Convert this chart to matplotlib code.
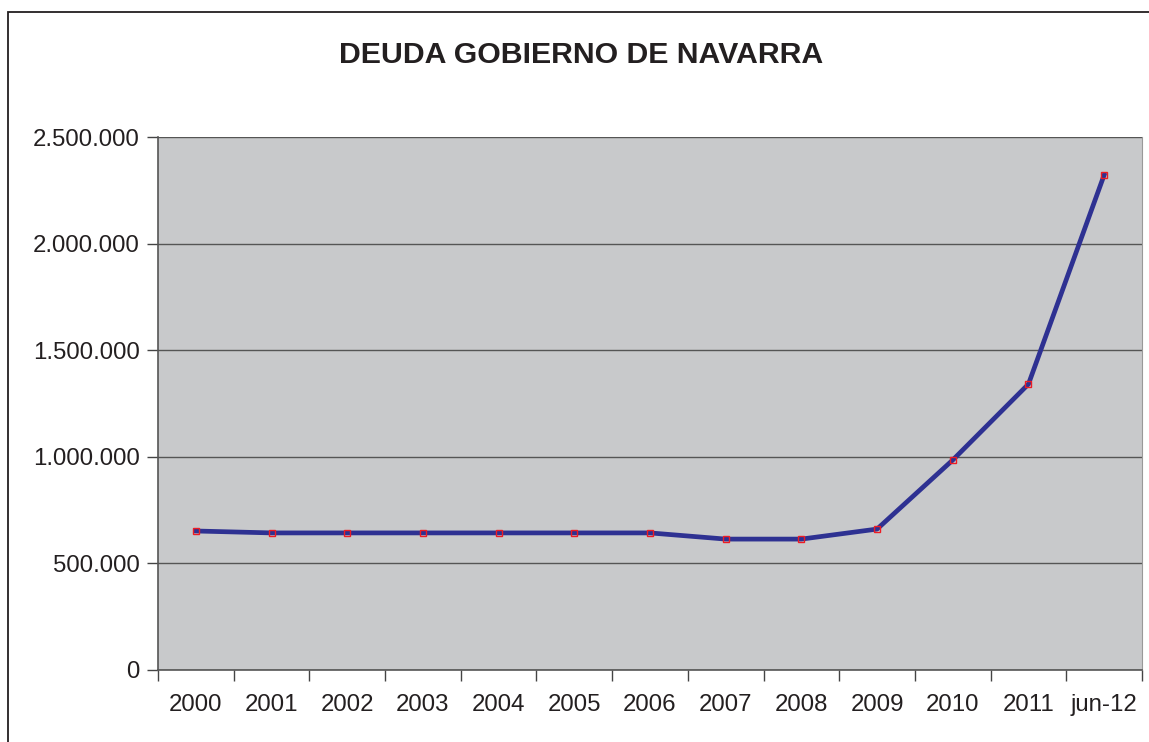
import numpy as np
import matplotlib.pyplot as plt
from matplotlib.patches import Rectangle
from matplotlib.ticker import FuncFormatter

# datos (miles de euros)
periodos = ['2000', '2001', '2002', '2003', '2004', '2005', '2006',
            '2007', '2008', '2009', '2010', '2011', 'jun-12']
deuda = [652000, 643000, 643000, 643000, 643000, 643000, 643000,
         614000, 614000, 661000, 985000, 1341000, 2322000]

plt.rcParams['font.family'] = ['Liberation Sans', 'DejaVu Sans']

fig = plt.figure(figsize=(11.49, 7.42), dpi=100)
ax = fig.add_axes([158/1149, 72/742, 984/1149, 533/742])

x = np.arange(len(periodos))
ax.plot(x, deuda, '-', color='#2E3192', linewidth=3.4, zorder=3)
ax.plot(x, deuda, 's', markersize=5, markerfacecolor='none',
        markeredgecolor='#ED1C24', markeredgewidth=1.0, zorder=4)

ax.set_facecolor('#C8C9CB')
ax.set_xlim(-0.5, len(periodos) - 0.5)
ax.set_ylim(0, 2500000)
ax.set_yticks(np.arange(0, 2500001, 500000))
ax.yaxis.set_major_formatter(FuncFormatter(lambda v, p: f'{int(v):,}'.replace(',', '.')))
ax.grid(axis='y', color='#555555', linewidth=1.0)
ax.set_axisbelow(True)

# ticks de categoría en los bordes
ax.set_xticks(np.arange(-0.5, len(periodos)), minor=False)
ax.set_xticklabels([])
ax.set_xticks(x, minor=True)
ax.set_xticklabels(periodos, minor=True)
ax.tick_params(axis='x', which='minor', length=0, pad=17, labelsize=17.3, colors='#231F20')
ax.tick_params(axis='x', which='major', length=8, width=1, color='#444444', direction='out')
ax.tick_params(axis='y', length=8, width=1, color='#444444', pad=5, labelsize=17.3, labelcolor='#231F20')

for s in ['left', 'bottom']:
    ax.spines[s].set_color('#555555')
    ax.spines[s].set_linewidth(1.2)
ax.spines['top'].set_visible(False)
ax.spines['right'].set_color('#999999')

fig.text(581/1149, 1 - 55/742, 'DEUDA GOBIERNO DE NAVARRA', ha='center', va='center',
         fontsize=21.8, fontweight='bold', color='#231F20')

# marco del gráfico
fig.add_artist(Rectangle((8/1149, -0.1), 1.5, 0.1 + 1 - 12/742, transform=fig.transFigure,
                         fill=False, edgecolor='#231F20', linewidth=1.3))

fig.savefig('out.png', dpi=100)
